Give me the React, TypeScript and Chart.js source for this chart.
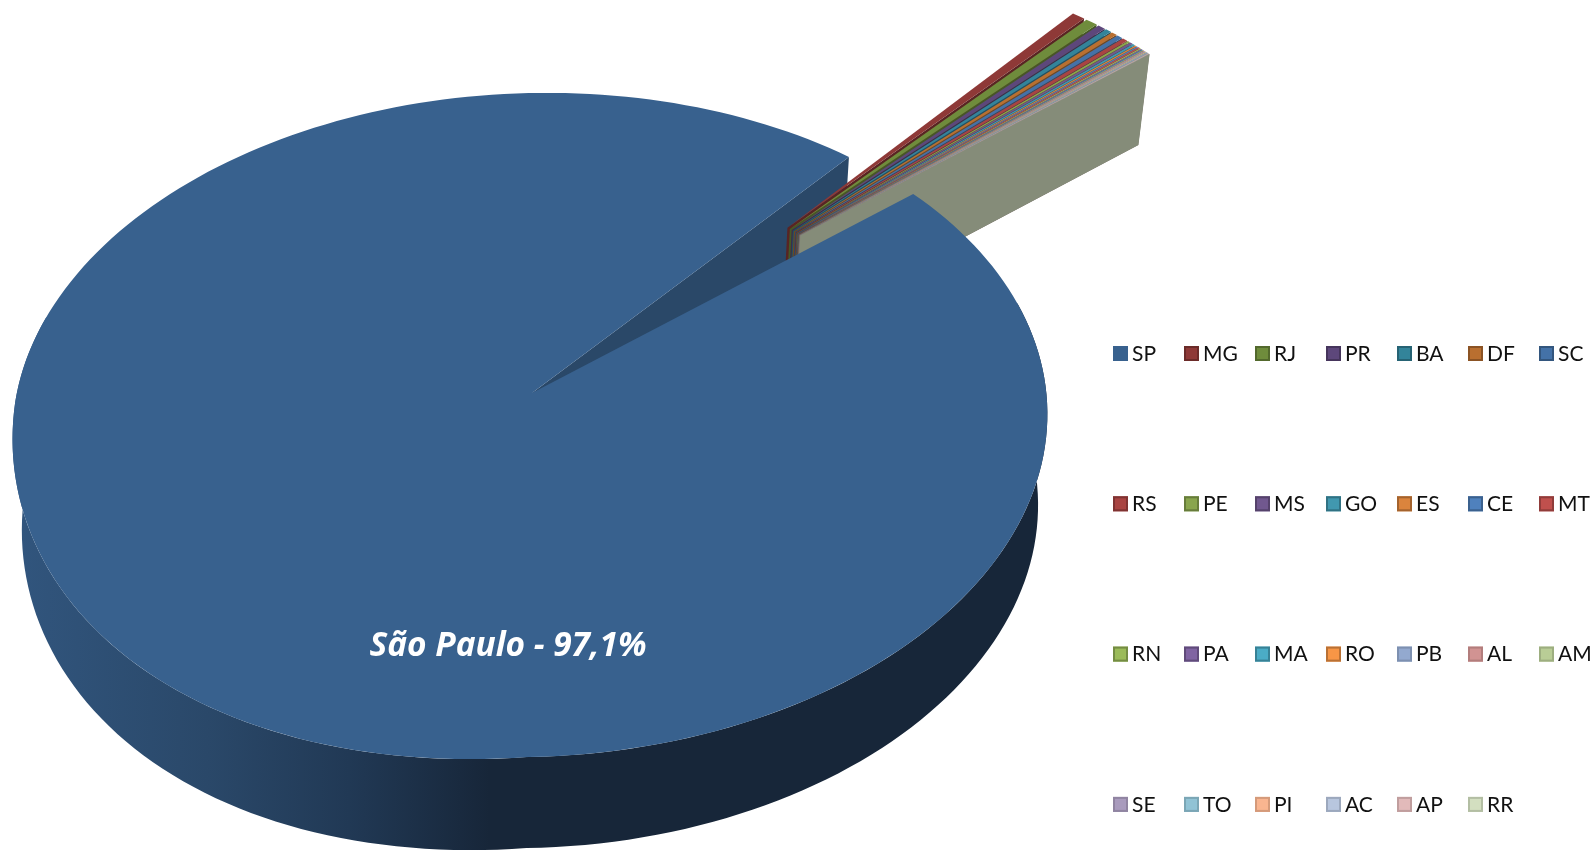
import React, { useEffect, useRef } from "react";
import { Chart, registerables } from "chart.js";

Chart.register(...registerables);

const stateCodes = ["SP", "MG", "RJ", "PR", "BA", "DF", "SC", "RS", "PE", "MS", "GO", "ES", "CE", "MT", "RN", "PA", "MA", "RO", "PB", "AL", "AM", "SE", "TO", "PI", "AC", "AP", "RR"];
const sharePercent = [97.1, 0.48, 0.45, 0.28, 0.22, 0.21, 0.21, 0.19, 0.1, 0.1, 0.09, 0.07, 0.06, 0.06, 0.05, 0.04, 0.04, 0.03, 0.035, 0.035, 0.035, 0.03, 0.025, 0.02, 0.02, 0.01, 0.01];
const sliceColors = ["#38618E", "#8E3937", "#6F8C3C", "#5D477B", "#33849A", "#B96F30", "#4472A8", "#A94442", "#89A54E", "#71588F", "#4198AF", "#DB843D", "#4F81BD", "#C0504D", "#9BBB59", "#8064A2", "#4BACC6", "#F79646", "#93A9CF", "#D19392", "#B9CD96", "#A99BBD", "#91C3D5", "#F9B590", "#B8C6DE", "#E2BABA", "#D3DFC0"];
const sliceExplosion = [0, ...Array(26).fill(0.22)];
const dataLabelText = "São Paulo - 97,1%";

const DEG = Math.PI / 180;
const GROUP_SHIFT = [0.37, -0.352];
const DEPTH = 91;

function project(u: number, v: number): [number, number] {
  const w = 1 - 0.0964 * v + 0.003 * u;
  // the lower-left of the reference's disc bulges a little beyond a pure projection
  const bulge = u < 0 && v > 0 ? 31 * -u * v : 0;
  return [532 + (515 * u - 5 * v) / w, 393 + (-7.5 * u + 329 * v) / w + bulge];
}
function drop(p: [number, number]): [number, number] {
  return [p[0] - 0.018 * (p[0] - 530), p[1] + DEPTH];
}
function shade(hex: string, f: number) {
  const n = parseInt(hex.slice(1), 16);
  const c = [(n >> 16) & 255, (n >> 8) & 255, n & 255].map((x) => Math.round(x * f));
  return `rgb(${c[0]},${c[1]},${c[2]})`;
}
function poly(ctx: CanvasRenderingContext2D, pts: [number, number][], fill: any) {
  ctx.beginPath();
  pts.forEach((p, i) => (i ? ctx.lineTo(p[0], p[1]) : ctx.moveTo(p[0], p[1])));
  ctx.closePath();
  ctx.fillStyle = fill;
  ctx.fill();
}
function arcPoints(ox: number, oy: number, a0: number, a1: number) {
  const n = Math.max(1, Math.ceil(Math.abs(a1 - a0) / (1.5 * DEG)));
  const pts: [number, number][] = [];
  for (let i = 0; i <= n; i++) {
    const a = a0 + ((a1 - a0) * i) / n;
    pts.push(project(ox + Math.cos(a), oy + Math.sin(a)));
  }
  return pts;
}

const pie3d = {
  id: "pie3d",
  beforeDatasetsDraw(chart: any) {
    const ctx: CanvasRenderingContext2D = chart.ctx;
    const arcs = chart.getDatasetMeta(0).data;
    const colors = chart.data.datasets[0].backgroundColor;
    ctx.save();

    const main = arcs[0];
    // cut wall of the large slice, seen through the gap
    const mainEnd = arcPoints(0, 0, main.endAngle, main.endAngle)[0];
    const centre = project(0, 0);
    poly(ctx, [centre, mainEnd, drop(mainEnd), drop(centre)], "#2A4868");

    // small exploded slices, wall then top
    for (let i = 1; i < arcs.length; i++) {
      const el = arcs[i];
      const mid = (el.startAngle + el.endAngle) / 2;
      const off = el.options.offset;
      const ox = GROUP_SHIFT[0] + off * Math.cos(mid);
      const oy = GROUP_SHIFT[1] + off * Math.sin(mid);
      const apex = project(ox, oy);
      const rim = arcPoints(ox, oy, el.startAngle, el.endAngle);
      const tip = rim[rim.length - 1];
      poly(ctx, [apex, tip, drop(tip), drop(apex)], shade(colors[i], 0.63));
      poly(ctx, [apex, ...rim], colors[i]);
    }

    // outer wall of the large slice
    const front = arcPoints(0, 0, -15 * DEG, 195 * DEG);
    const wall = [...front, ...front.map(drop).reverse()];
    const g = ctx.createLinearGradient(20, 0, 490, 0);
    g.addColorStop(0, "#31557D");
    g.addColorStop(0.4, "#2A4869");
    g.addColorStop(0.7, "#213955");
    g.addColorStop(1, "#172639");
    poly(ctx, wall, g);

    // top of the large slice
    poly(ctx, [centre, ...arcPoints(0, 0, main.startAngle, main.endAngle)], colors[0]);

    ctx.font = "italic 700 33.4px 'Open Sans'";
    ctx.fillStyle = "#FFFFFF";
    ctx.textAlign = "center";
    ctx.textBaseline = "middle";
    ctx.fillText(dataLabelText, 508, 646);
    ctx.restore();
    return false;
  },
  afterDraw(chart: any) {
    const ctx: CanvasRenderingContext2D = chart.ctx;
    const labels: string[] = chart.data.labels;
    const colors = chart.data.datasets[0].backgroundColor;
    ctx.save();
    ctx.font = "21px Lato";
    ctx.textAlign = "left";
    ctx.textBaseline = "middle";
    labels.forEach((label, i) => {
      const col = i % 7;
      const row = Math.floor(i / 7);
      const x = 1113 + col * 71;
      const y = 346 + row * 150.3;
      ctx.fillStyle = colors[i];
      ctx.fillRect(x, y, 15, 15);
      if (i > 0) {
        ctx.strokeStyle = shade(colors[i], i > 17 ? 0.85 : 0.75);
        ctx.lineWidth = 2;
        ctx.strokeRect(x + 1, y + 1, 13, 13);
      }
      ctx.fillStyle = "#111111";
      ctx.fillText(label, x + 19, y + 8);
    });
    ctx.restore();
  },
};

export default function App() {
  const ref = useRef<HTMLCanvasElement>(null);
  useEffect(() => {
    const chart = new Chart(ref.current!, {
      type: "pie",
      data: {
        labels: stateCodes,
        datasets: [
          {
            data: sharePercent,
            backgroundColor: sliceColors,
            borderWidth: 0,
            offset: sliceExplosion,
          },
        ],
      },
      options: {
        responsive: false,
        animation: false,
        rotation: 51.3,
        events: [],
        plugins: { legend: { display: false }, tooltip: { enabled: false } },
      },
      plugins: [pie3d],
    } as any);
    return () => chart.destroy();
  }, []);
  return (
    <div style={{ position: "fixed", left: 0, top: 0, width: 1594, height: 850, background: "#fff" }}>
      <canvas ref={ref} width={1594} height={850} style={{ display: "block" }} />
    </div>
  );
}
